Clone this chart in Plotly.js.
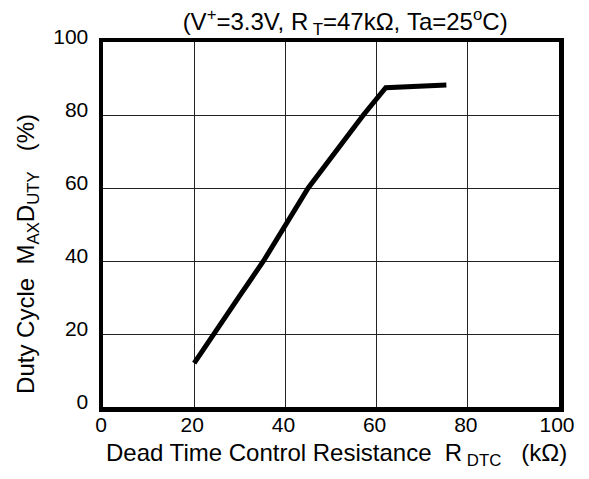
<!DOCTYPE html>
<html>
<head>
<meta charset="utf-8">
<script src="https://cdn.plot.ly/plotly-3.0.1.min.js"></script>
<style>html,body{margin:0;padding:0;background:#fff;}#chart{width:589px;height:479px;}</style>
</head>
<body>
<div id="chart"></div>
<script>
var resistance = [20, 24.2, 30, 35.2, 43, 45, 57.1, 62, 75.3];
var dutyCycle = [12, 20, 30.5, 40, 55.5, 60, 80, 87.5, 88.2];
var xTicks = [0, 20, 40, 60, 80, 100];
var yTicks = [0, 20, 40, 60, 80, 100];

var font = 'Liberation Sans, Arial, sans-serif';
var trace = {
  x: resistance, y: dutyCycle, type: 'scatter', mode: 'lines',
  line: {color: '#000', width: 5}, hoverinfo: 'skip'
};
var layout = {
  width: 589, height: 479,
  margin: {l: 103, r: 30, t: 42, b: 72},
  paper_bgcolor: '#fff', plot_bgcolor: '#fff',
  showlegend: false,
  font: {family: font, size: 21, color: '#000'},
  title: {
    text: '(V<sup>+</sup>=3.3V, R<sub> T</sub>=47kΩ, Ta=25<sup>o</sup>C)',
    font: {family: font, size: 24, color: '#000'},
    x: 0.531, xanchor: 'center', xref: 'paper',
    y: 0.955, yanchor: 'middle'
  },
  xaxis: {
    range: [0, 100], tickvals: xTicks, ticktext: xTicks.map(String),
    showgrid: true, gridcolor: '#222', gridwidth: 1,
    zeroline: false, showline: true, linecolor: '#000', linewidth: 4.5, mirror: true,
    ticks: '', ticklabelstandoff: -5, ticklabelshift: -2,
    tickfont: {family: font, size: 21, color: '#000'}
  },
  yaxis: {
    range: [0, 100], tickvals: yTicks, ticktext: yTicks.map(String),
    showgrid: true, gridcolor: '#222', gridwidth: 1,
    zeroline: false, showline: true, linecolor: '#000', linewidth: 4.5, mirror: true,
    ticks: '', ticklabelstandoff: 6, ticklabelshift: -5,
    tickfont: {family: font, size: 21, color: '#000'}
  },
  annotations: [
    {
      text: 'Dead Time Control Resistance  R<sub> DTC</sub>   (kΩ)',
      xref: 'paper', yref: 'paper', x: 0.513, y: -0.082,
      xanchor: 'center', yanchor: 'top', showarrow: false,
      font: {family: font, size: 24, color: '#000'}
    },
    {
      text: 'Duty Cycle  M<sub>AX</sub>D<sub>UTY</sub>   (%)',
      xref: 'paper', yref: 'paper', x: -0.167, y: 0.419,
      xanchor: 'center', yanchor: 'middle', textangle: -90, showarrow: false,
      font: {family: font, size: 24, color: '#000'}
    }
  ]
};
Plotly.newPlot('chart', [trace], layout, {staticPlot: true, displayModeBar: false});
</script>
</body>
</html>
